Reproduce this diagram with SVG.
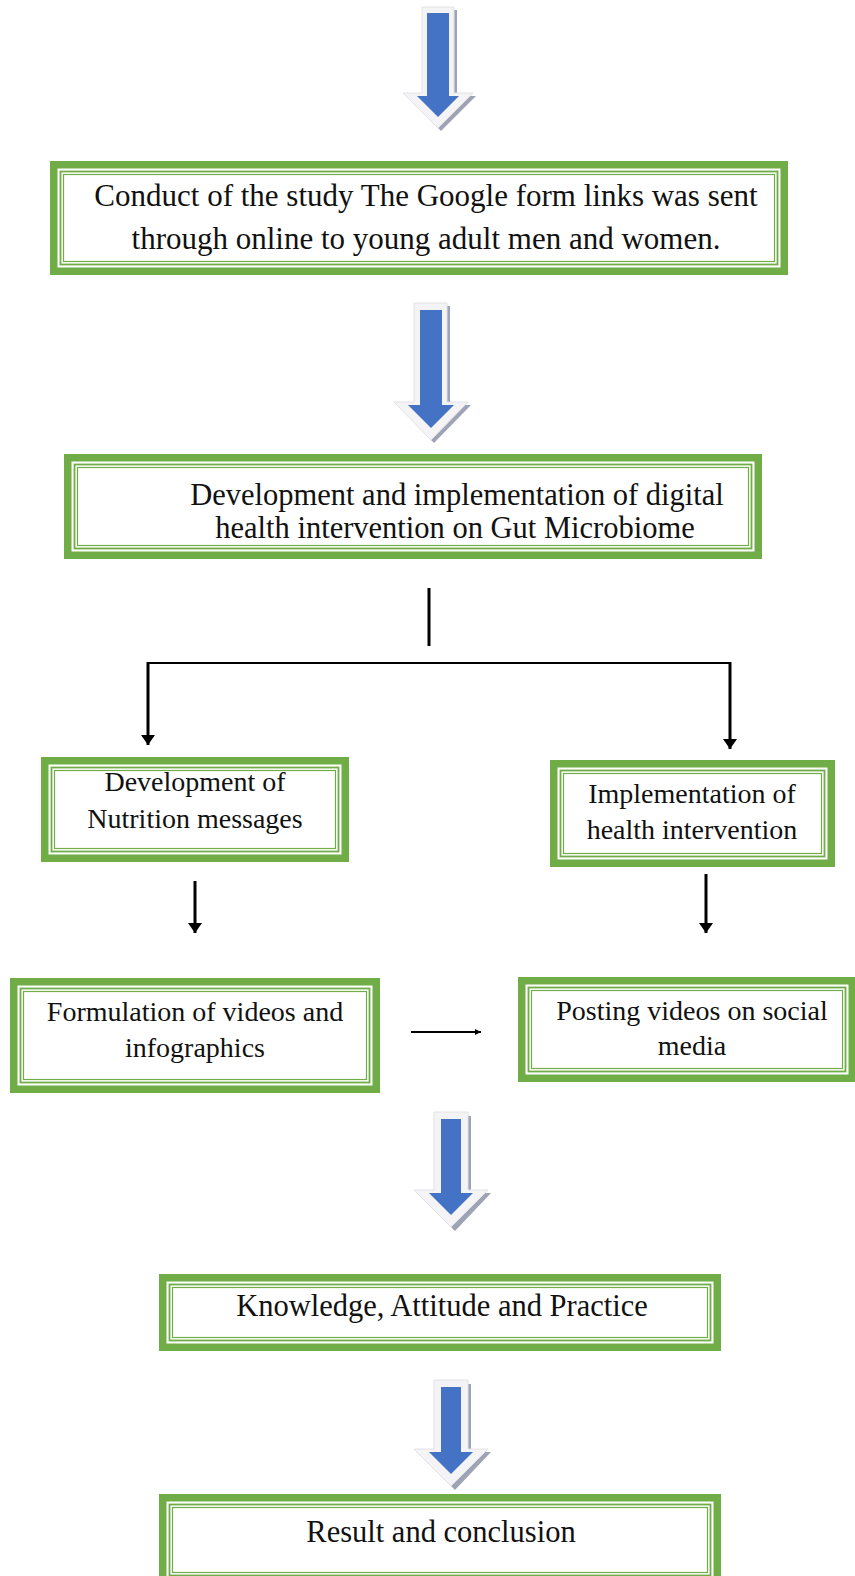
<svg xmlns="http://www.w3.org/2000/svg" width="855" height="1576" viewBox="0 0 855 1576">
<style>
.band{fill:none;stroke:#70AD47;stroke-width:7.5}
.l1{fill:none;stroke:#70AD47;stroke-width:1.8}
.l2{fill:none;stroke:#70AD47;stroke-width:1.2}
.inner{fill:#fff}
.t{font-family:"Liberation Serif","Times New Roman",serif;fill:#111;text-anchor:middle}
.big{font-size:30.5px}
.sm{font-size:28px}
.conn{stroke:#000;fill:none}
.shadow{fill:#9EA3B5}
.outer{fill:#F4F4F6;stroke:#E2E2E6;stroke-width:1}
.blue{fill:#4472C4}
</style>
<defs>
<marker id="ah" markerUnits="userSpaceOnUse" markerWidth="10" markerHeight="14" refX="10" refY="7" orient="auto" viewBox="0 0 10 14">
<path d="M0,0 L10,7 L0,14 Z" fill="#000"/>
</marker>
<marker id="ahs" markerUnits="userSpaceOnUse" markerWidth="6" markerHeight="6" refX="6" refY="3" orient="auto" viewBox="0 0 6 6">
<path d="M0,0 L6,3 L0,6 Z" fill="#000"/>
</marker>
</defs>
<rect width="855" height="1576" fill="#fff"/>

<!-- block arrows -->
<g id="arrow1">
<path class="shadow" d="M457,10 L457,96 L476,96 L441,131 L437,127 L472,93 L453,93 L453,10 Z"/>
<path class="outer" d="M422,7 L454,7 L454,93 L473,93 L438,128 L403,93 L422,93 Z"/>
<path class="blue" d="M427,13 L449,13 L449,96 L459,96 L438,117 L417,96 L427,96 Z"/>
</g>
<g id="arrow2">
<path class="shadow" d="M450,306 L450,405 L471,405 L434,443 L430,439 L466,402 L446,402 L446,306 Z"/>
<path class="outer" d="M414,303 L447,303 L447,402 L468,402 L431,440 L394,402 L414,402 Z"/>
<path class="blue" d="M420,310 L442,310 L442,405 L454,405 L431,428 L408,405 L420,405 Z"/>
</g>
<g id="arrow3">
<path class="shadow" d="M471,1116 L471,1193 L491,1193 L455,1231 L451,1227 L486,1190 L467,1190 L467,1116 Z"/>
<path class="outer" d="M434,1112 L468,1112 L468,1190 L488,1190 L451,1227 L414,1190 L434,1190 Z"/>
<path class="blue" d="M441,1119 L461,1119 L461,1193 L473,1193 L451,1215 L429,1193 L441,1193 Z"/>
</g>
<g id="arrow4">
<path class="shadow" d="M471,1384 L471,1452 L491,1452 L455,1490 L451,1486 L486,1449 L467,1449 L467,1384 Z"/>
<path class="outer" d="M434,1380 L468,1380 L468,1449 L488,1449 L451,1486 L414,1449 L434,1449 Z"/>
<path class="blue" d="M441,1387 L461,1387 L461,1452 L473,1452 L451,1474 L429,1452 L441,1452 Z"/>
</g>

<!-- connectors -->
<g id="connectors">
<line class="conn" x1="429" y1="588" x2="429" y2="646" stroke-width="3"/>
<path class="conn" d="M730,663 L148,663" stroke-width="2"/>
<line class="conn" x1="148" y1="662" x2="148" y2="745" stroke-width="3" marker-end="url(#ah)"/>
<line class="conn" x1="730" y1="662" x2="730" y2="749" stroke-width="3" marker-end="url(#ah)"/>
<line class="conn" x1="195" y1="881" x2="195" y2="933" stroke-width="3" marker-end="url(#ah)"/>
<line class="conn" x1="706" y1="874" x2="706" y2="933" stroke-width="3" marker-end="url(#ah)"/>
<line class="conn" x1="411" y1="1032" x2="481" y2="1032" stroke-width="2" marker-end="url(#ahs)"/>
</g>

<!-- boxes -->
<g id="box1">
<rect class="inner" x="50" y="161" width="738" height="114"/>
<rect class="band" x="53.75" y="164.75" width="730.5" height="106.5"/>
<rect class="l1" x="60.5" y="171.5" width="717" height="93"/>
<rect class="l2" x="63.5" y="174.5" width="711" height="87"/>
<text class="t big" x="426" y="206" font-size="31px" style="font-size:31px">Conduct of the study The Google form links was sent</text>
<text class="t big" x="426" y="249" style="font-size:31px">through online to young adult men and women.</text>
</g>
<g id="box2">
<rect class="inner" x="64" y="454" width="698" height="105"/>
<rect class="band" x="67.75" y="457.75" width="690.5" height="97.5"/>
<rect class="l1" x="74.5" y="464.5" width="677" height="84"/>
<rect class="l2" x="77.5" y="467.5" width="671" height="78"/>
<text class="t big" x="457" y="505">Development and implementation of digital</text>
<text class="t big" x="455" y="538">health intervention on Gut Microbiome</text>
</g>
<g id="box3">
<rect class="inner" x="41" y="757" width="308" height="105"/>
<rect class="band" x="44.75" y="760.75" width="300.5" height="97.5"/>
<rect class="l1" x="51.5" y="767.5" width="287" height="84"/>
<rect class="l2" x="54.5" y="770.5" width="281" height="78"/>
<text class="t sm" x="195" y="791">Development of</text>
<text class="t sm" x="195" y="828">Nutrition messages</text>
</g>
<g id="box4">
<rect class="inner" x="550" y="760" width="285" height="107"/>
<rect class="band" x="553.75" y="763.75" width="277.5" height="99.5"/>
<rect class="l1" x="560.5" y="770.5" width="264" height="86"/>
<rect class="l2" x="563.5" y="773.5" width="258" height="80"/>
<text class="t sm" x="692" y="803">Implementation of</text>
<text class="t sm" x="692" y="839">health intervention</text>
</g>
<g id="box5">
<rect class="inner" x="10" y="978" width="370" height="115"/>
<rect class="band" x="13.75" y="981.75" width="362.5" height="107.5"/>
<rect class="l1" x="20.5" y="988.5" width="349" height="94"/>
<rect class="l2" x="23.5" y="991.5" width="343" height="88"/>
<text class="t sm" x="195" y="1021">Formulation of videos and</text>
<text class="t sm" x="195" y="1057">infographics</text>
</g>
<g id="box6">
<rect class="inner" x="518" y="977" width="338" height="105"/>
<rect class="band" x="521.75" y="980.75" width="330.5" height="97.5"/>
<rect class="l1" x="528.5" y="987.5" width="317" height="84"/>
<rect class="l2" x="531.5" y="990.5" width="311" height="78"/>
<text class="t sm" x="692" y="1020">Posting videos on social</text>
<text class="t sm" x="692" y="1055">media</text>
</g>
<g id="box7">
<rect class="inner" x="159" y="1274" width="562" height="77"/>
<rect class="band" x="162.75" y="1277.75" width="554.5" height="69.5"/>
<rect class="l1" x="169.5" y="1284.5" width="541" height="56"/>
<rect class="l2" x="172.5" y="1287.5" width="535" height="50"/>
<text class="t big" x="442" y="1316">Knowledge, Attitude and Practice</text>
</g>
<g id="box8">
<rect class="inner" x="159" y="1494" width="562" height="92"/>
<rect class="band" x="162.75" y="1497.75" width="554.5" height="84.5"/>
<rect class="l1" x="169.5" y="1504.5" width="541" height="71"/>
<rect class="l2" x="172.5" y="1507.5" width="535" height="65"/>
<text class="t big" x="441" y="1542">Result and conclusion</text>
</g>
</svg>
